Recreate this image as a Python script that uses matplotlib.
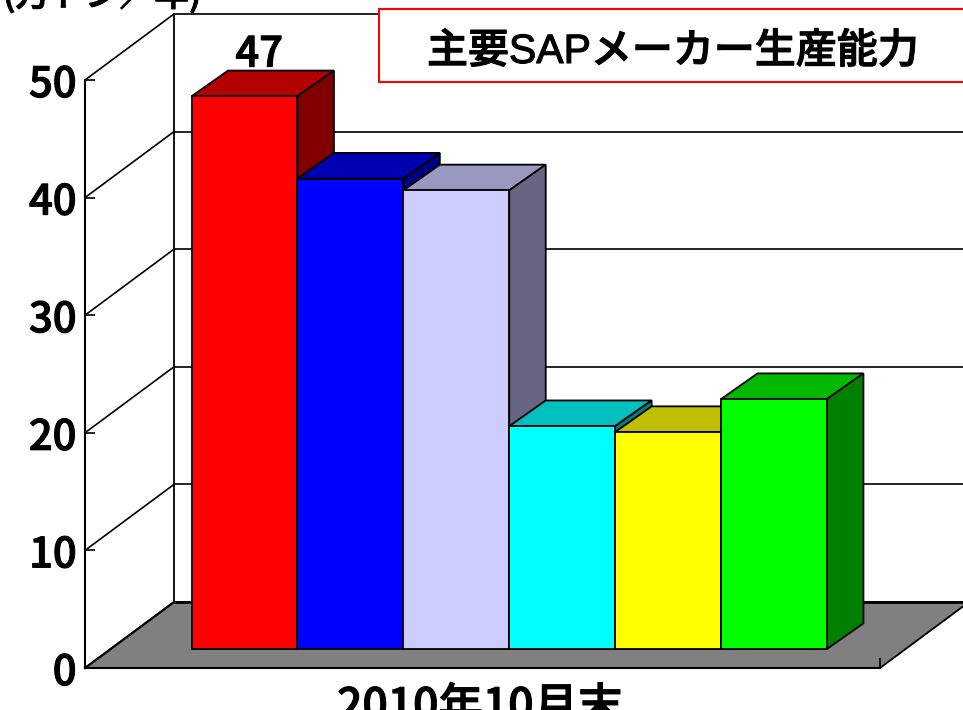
import matplotlib
matplotlib.use("Agg")
import matplotlib.pyplot as plt
import matplotlib.patheffects as pe
from matplotlib.patches import Polygon, Rectangle
from matplotlib.transforms import ScaledTranslation

plt.rcParams['font.family'] = ['Liberation Sans', 'Noto Sans CJK JP', 'DejaVu Sans']

# --- data ---
values = [47, 40, 39, 18.95, 18.45, 21.25]
value_labels = ['47', '', '', '', '', '']
yticks = [0, 10, 20, 30, 40, 50]
category_label = '2010年10月末'
unit_label = '(万トン／年)'
title_label = '主要SAPメーカー生産能力'
front_colors = ['#FF0000', '#0000FF', '#CCCCFF', '#00FFFF', '#FFFF00', '#00FF00']
top_colors = ['#B30000', '#0000B3', '#9999BF', '#00BFBF', '#BFBF00', '#00B900']
side_colors = ['#800000', '#000080', '#666680', '#008080', '#808000', '#008000']

W, H = 963, 710
fig = plt.figure(figsize=(W / 100, H / 100), dpi=100)
fig.patch.set_facecolor('white')
L, R, B, T = 85, 880, 668, 80
ax = fig.add_axes([L / W, 1 - B / H, (R - L) / W, (B - T) / H])
ymax = yticks[-1]
ax.set_ylim(0, ymax)
ppx = 105.9  # pixels per category
ppy = (B - T) / ymax
x0 = -1.506
ax.set_xlim(x0, x0 + (R - L) / ppx)
xmin, xmax = ax.get_xlim()
ax.patch.set_visible(False)

# depth vectors in data units
wall_dx, wall_dy = 89 / ppx, 66 / ppy
bar_dx, bar_dy = 36.5 / ppx, 25.7 / ppy
bar_base = 19 / ppy
EC = '#000000'
LABEL_FONT = ['Noto Sans CJK JP']
LABEL_WEIGHT = 'medium'
THICK = [pe.withStroke(linewidth=0.8, foreground='black')]

# floor
ax.add_patch(Polygon([(xmin, 0), (xmax, 0), (xmax + wall_dx, wall_dy), (xmin + wall_dx, wall_dy)],
                     closed=True, fc='#808080', ec=EC, lw=1.3, clip_on=False, zorder=1))
ax.plot([xmin + wall_dx, xmax + wall_dx], [wall_dy, wall_dy], color=EC, lw=2, clip_on=False, zorder=1.1)

# walls and gridlines
for t in yticks:
    ax.plot([xmin, xmin + wall_dx], [t, t + wall_dy], color=EC, lw=1.2 if t else 1.5, clip_on=False, zorder=1.2)
    if t:
        ax.plot([xmin + wall_dx, xmax + 1], [t + wall_dy, t + wall_dy], color=EC, lw=1.2, clip_on=False, zorder=1.2)
ax.plot([xmin + wall_dx] * 2, [wall_dy, ymax + wall_dy], color=EC, lw=1.3, clip_on=False, zorder=1.2)

# bars
for i, v in enumerate(values):
    z = 2 + i
    ax.bar(i, v, width=1, bottom=bar_base, color=front_colors[i], edgecolor=EC, linewidth=1.3, zorder=z + 0.2, clip_on=False)
    l, r = i - 0.5, i + 0.5
    top = bar_base + v
    ax.add_patch(Polygon([(l, top), (r, top), (r + bar_dx, top + bar_dy), (l + bar_dx, top + bar_dy)],
                         closed=True, fc=top_colors[i], ec=EC, lw=1.3, zorder=z, clip_on=False))
    ax.add_patch(Polygon([(r, bar_base), (r, top), (r + bar_dx, top + bar_dy), (r + bar_dx, bar_base + bar_dy)],
                         closed=True, fc=side_colors[i], ec=EC, lw=1.3, zorder=z, clip_on=False))
    if value_labels[i]:
        ax.text(i + 0.14, top + bar_dy + 4 / ppy, value_labels[i], ha='center', va='baseline', fontsize=30,
                fontweight=LABEL_WEIGHT, family=LABEL_FONT, color='black', zorder=20, path_effects=THICK)

# axes
for s in ('top', 'right'):
    ax.spines[s].set_visible(False)
for s in ('left', 'bottom'):
    ax.spines[s].set_linewidth(1.5)
    ax.spines[s].set_zorder(1.5)
ax.set_yticks(yticks)
ax.set_yticklabels([str(t) for t in yticks], fontsize=30, fontweight=LABEL_WEIGHT, family=LABEL_FONT)
shift = ScaledTranslation(0, -2 / 72, fig.dpi_scale_trans)
for lab in ax.get_yticklabels():
    lab.set_transform(lab.get_transform() + shift)
    lab.set_path_effects(THICK)
ax.tick_params(axis='y', direction='in', length=7, width=1.2, pad=6)
ax.set_xticks([xmax])
ax.set_xticklabels([''])
ax.tick_params(axis='x', direction='in', length=7, width=1.2)

# texts
fig.text(480 / W, 1 - 720 / H, category_label, ha='center', va='baseline', fontsize=32, fontweight=LABEL_WEIGHT,
         family=LABEL_FONT, path_effects=THICK)
fig.text(3 / W, 1 - 6 / H, unit_label, ha='left', va='baseline', fontsize=25, fontweight=LABEL_WEIGHT,
         family=LABEL_FONT, path_effects=THICK)
fig.add_artist(Rectangle((378.5 / W, 1 - 81.5 / H), 620 / W, 73 / H, transform=fig.transFigure,
                         fc='white', ec='#FF0000', lw=1.5, zorder=30))
fig.text(673 / W, 1 - 63 / H, title_label, ha='center', va='baseline', fontsize=29.5, fontweight=LABEL_WEIGHT,
         zorder=31, path_effects=THICK)

fig.savefig('out.png', dpi=100)
